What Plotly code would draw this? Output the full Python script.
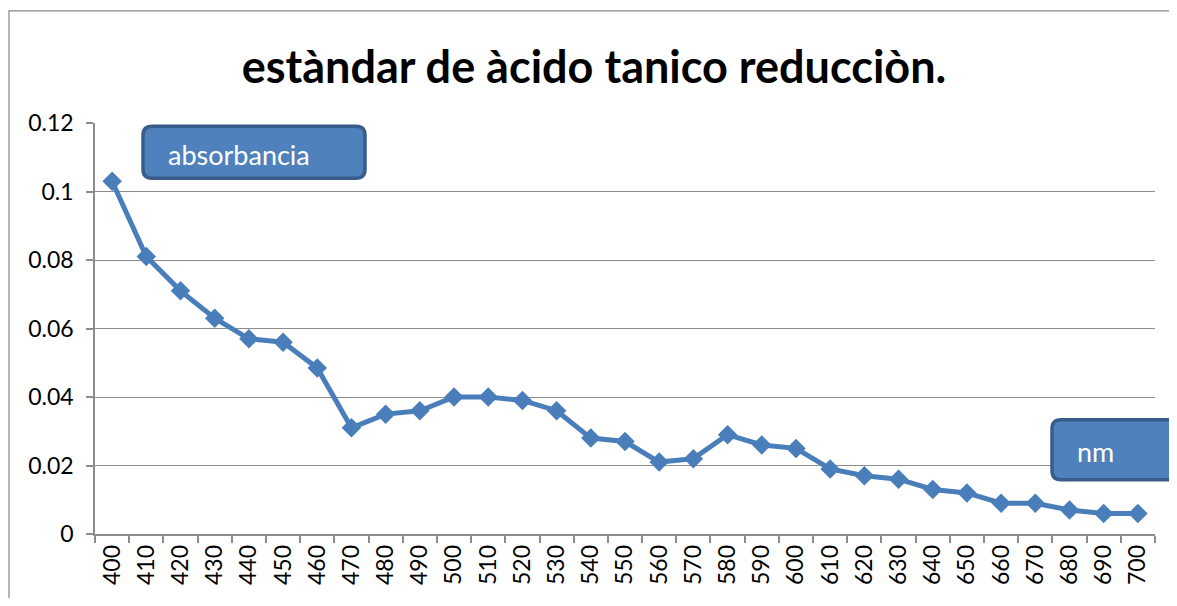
import plotly.graph_objects as go

wavelengths = [400, 410, 420, 430, 440, 450, 460, 470, 480, 490, 500, 510, 520, 530, 540,
               550, 560, 570, 580, 590, 600, 610, 620, 630, 640, 650, 660, 670, 680, 690, 700]
absorbance = [0.103, 0.081, 0.071, 0.063, 0.057, 0.056, 0.0485, 0.031, 0.035, 0.036, 0.040,
              0.040, 0.039, 0.036, 0.028, 0.027, 0.021, 0.022, 0.029, 0.026, 0.025, 0.019,
              0.017, 0.016, 0.013, 0.012, 0.009, 0.009, 0.007, 0.006, 0.006]
categories = [str(w) for w in wavelengths]

title_text = "estàndar de àcido tanico reducciòn."
box_y_label = "absorbancia"
box_x_label = "nm"

OFF = 8  # page body margin
W, H = 1177 - OFF, 606 - 2 * OFF
# target pixel positions in the window
PL, PR, PT, PB = 95, 1155, 122.7, 534.3
L, T = PL - OFF, PT - OFF
R, B = W - (PR - OFF), H - (PB - OFF)
pw, ph = W - L - R, H - T - B

def px(x):
    return (x - PL) / pw

def py(y):
    return (PB - y) / ph

def rounded_rect(x0, y0, x1, y1, r):
    rx, ry = r / pw, r / ph
    a, b, c, d = px(x0), py(y1), px(x1), py(y0)
    return (f"M {a+rx},{d} L {c-rx},{d} Q {c},{d} {c},{d-ry} "
            f"L {c},{b+ry} Q {c},{b} {c-rx},{b} L {a+rx},{b} Q {a},{b} {a},{b+ry} "
            f"L {a},{d-ry} Q {a},{d} {a+rx},{d} Z")

FONT = "Lato, Calibri, Arial, sans-serif"
GRID = "#8c8c8c"

fig = go.Figure()
fig.add_trace(go.Scatter(
    x=categories, y=absorbance, mode="lines+markers",
    line=dict(color="#4A7EBB", width=5),
    marker=dict(symbol="diamond", size=15, color="#4A7EBB"),
    showlegend=False, cliponaxis=False,
))

fig.update_layout(
    width=W, height=H,
    margin=dict(l=L, r=R, t=T, b=B),
    paper_bgcolor="white", plot_bgcolor="white",
    font=dict(family=FONT, color="#000000", size=22),
    title=dict(text=f"<b>{title_text}</b>", xref="paper", x=px(594), xanchor="center",
               y=1 - (67 - OFF) / H, yanchor="middle",
               font=dict(size=45, family=FONT, color="#000")),
    xaxis=dict(type="category", tickson="boundaries", range=[-0.5, len(categories) - 0.5],
               showgrid=False, showline=True, linecolor=GRID, linewidth=1.5,
               ticks="outside", ticklen=7, tickcolor=GRID, tickwidth=1.5,
               tickangle=-90, tickfont=dict(size=23), zeroline=False),
    yaxis=dict(range=[0, 0.12], dtick=0.02, showgrid=True, gridcolor=GRID, gridwidth=1.2,
               showline=True, linecolor=GRID, linewidth=1.5, zeroline=False,
               ticks="outside", ticklen=7, tickcolor=GRID, tickwidth=1.5,
               tickfont=dict(size=23), ticklabelstandoff=8),
)

# outer chart border
fig.add_shape(type="rect", xref="paper", yref="paper",
              x0=px(9), y0=py(640), x1=px(1220), y1=py(10.5),
              line=dict(color="#868686", width=1.2), fillcolor="rgba(0,0,0,0)", layer="below")

# label boxes
for (x0, y0, x1, y1, label, tx) in [(143, 126, 365, 178, box_y_label, 166),
                                    (1052, 420, 1220, 480, box_x_label, 1075)]:
    fig.add_shape(type="path", xref="paper", yref="paper",
                  path=rounded_rect(x0, y0, x1, y1, 9),
                  fillcolor="#4F81BD", line=dict(color="#385D8A", width=3.5), layer="above")
    fig.add_annotation(xref="paper", yref="paper", x=px(tx), y=py((y0 + y1) / 2 + 2),
                       xanchor="left", yanchor="middle", text=label, showarrow=False,
                       font=dict(family=FONT, size=27, color="white"))

fig.write_html("out.html")
